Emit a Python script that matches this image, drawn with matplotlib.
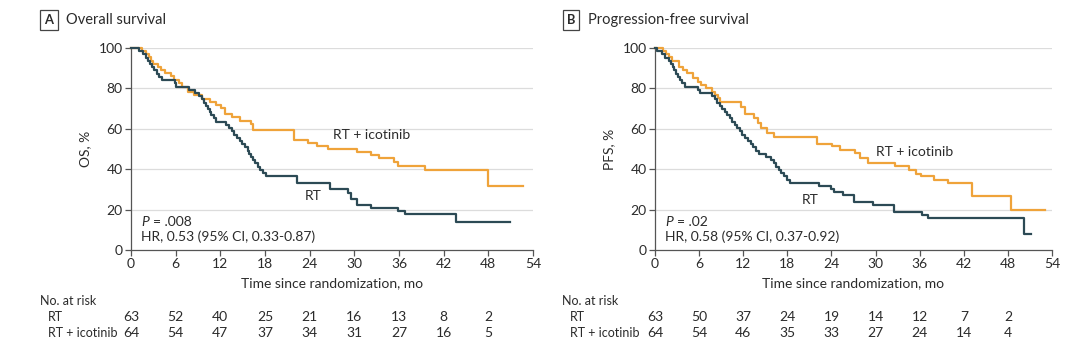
import matplotlib
matplotlib.use("Agg")
import matplotlib.pyplot as plt

# ---------------- data ----------------
os_rt_t = [0, 1.1, 1.6, 2.0, 2.3, 2.5, 2.8, 3.1, 3.5, 3.8, 4.2, 5.9, 6.1, 7.8, 8.6, 9.2, 9.5, 9.8,
           10.1, 10.3, 10.6, 10.8, 11.1, 11.4, 12.8, 13.2, 13.6, 13.9, 14.2, 14.6, 14.9, 15.3, 15.7,
           15.9, 16.1, 16.4, 16.7, 17.0, 17.3, 17.7, 18.2, 22.3, 26.7, 29.2, 29.6, 30.3, 32.2, 35.9,
           36.8, 43.7, 50.9]
os_rt_s = [100, 98.4, 96.8, 95.2, 93.7, 92.1, 90.5, 88.9, 87.3, 85.7, 84.1, 82.5, 80.9, 79.4, 77.8,
           76.2, 74.6, 73.0, 71.4, 69.8, 68.3, 66.7, 65.1, 63.5, 62.0, 60.3, 58.7, 57.1, 55.6, 54.0,
           52.4, 50.8, 49.2, 47.6, 46.0, 44.4, 42.9, 41.3, 39.7, 38.1, 36.5, 33.2, 30.0, 28.2, 25.4,
           22.2, 20.6, 19.2, 17.6, 13.8, 13.8]

os_ico_t = [0, 1.5, 2.0, 2.4, 2.7, 3.0, 3.6, 4.0, 4.6, 5.4, 5.8, 6.4, 6.9, 7.6, 8.5, 9.6, 10.6, 11.4,
            12.1, 12.6, 13.5, 14.6, 16.1, 16.4, 21.9, 23.8, 25.0, 26.4, 30.3, 32.2, 33.3, 35.3, 35.8,
            39.5, 48.0, 52.7]
os_ico_s = [100, 98.4, 96.9, 95.3, 93.8, 92.2, 90.6, 89.1, 87.5, 85.9, 84.4, 82.8, 80.9, 78.1, 76.6,
            75.0, 73.4, 71.9, 70.3, 67.2, 65.6, 64.1, 62.5, 59.4, 54.7, 53.1, 51.6, 50.0, 48.4, 46.9,
            45.3, 43.8, 41.5, 39.8, 31.7, 31.7]

pfs_rt_t = [0, 0.3, 0.9, 1.3, 1.9, 2.2, 2.4, 2.6, 2.9, 3.1, 3.4, 3.7, 4.1, 5.9, 6.1, 7.7, 8.1, 8.4,
            8.8, 9.1, 9.5, 9.8, 10.2, 10.5, 10.9, 11.2, 11.6, 11.9, 12.3, 12.6, 13.0, 13.3, 13.7, 14.2,
            15.1, 15.8, 16.2, 16.5, 16.9, 17.2, 17.5, 17.9, 18.4, 22.3, 23.9, 24.4, 25.6, 27.0, 29.7,
            32.5, 36.3, 37.2, 50.2, 51.2]
pfs_rt_s = [100, 98.4, 96.8, 95.2, 93.7, 92.1, 90.5, 88.9, 87.3, 85.7, 84.1, 82.5, 80.9, 79.4, 77.8,
            76.2, 74.6, 73.0, 71.4, 69.8, 68.3, 66.7, 65.1, 63.5, 61.9, 60.3, 58.7, 57.1, 55.6, 54.0,
            52.4, 50.8, 49.2, 47.6, 46.0, 44.4, 42.9, 41.3, 39.7, 38.1, 36.5, 34.9, 33.3, 31.7, 30.2,
            28.6, 27.0, 23.8, 22.2, 19.0, 17.5, 15.9, 7.9, 7.9]

pfs_ico_t = [0, 1.1, 1.5, 1.9, 2.3, 3.2, 3.8, 4.3, 5.2, 5.9, 6.3, 7.0, 7.7, 8.1, 8.6, 8.9, 11.7, 12.2,
             13.5, 14.0, 14.4, 15.3, 16.2, 22.0, 24.1, 25.2, 27.2, 27.9, 29.0, 32.6, 34.6, 35.5, 36.2,
             38.0, 39.8, 43.1, 48.4, 53.1]
pfs_ico_s = [100, 98.4, 96.9, 95.3, 93.8, 90.6, 88.9, 87.5, 85.0, 83.4, 81.8, 80.1, 78.4, 76.8, 75.1,
             73.5, 71.0, 67.3, 65.2, 62.7, 60.2, 58.0, 55.7, 52.7, 51.4, 49.6, 47.8, 45.3, 43.1, 41.5,
             39.5, 37.5, 36.5, 34.8, 33.2, 26.7, 19.9, 19.9]

risk_times = [0, 6, 12, 18, 24, 30, 36, 42, 48]
os_risk_rt = [63, 52, 40, 25, 21, 16, 13, 8, 2]
os_risk_ico = [64, 54, 47, 37, 34, 31, 27, 16, 5]
pfs_risk_rt = [63, 50, 37, 24, 19, 14, 12, 7, 2]
pfs_risk_ico = [64, 54, 46, 35, 33, 27, 24, 14, 4]

x_ticks = [0, 6, 12, 18, 24, 30, 36, 42, 48, 54]
y_ticks = [0, 20, 40, 60, 80, 100]

# ---------------- style ----------------
W, H = 1080, 355
FONT = "Lato"
plt.rcParams["font.family"] = [FONT, "DejaVu Sans"]
TXT = "#2b2b2b"
ORANGE = "#EFA33A"
DARK = "#2C4A55"
GRID = "#dcdcdc"
AXC = "#555555"
FS = 10.0
FR = 9.0

fig = plt.figure(figsize=(W / 100, H / 100), dpi=100)
fig.patch.set_facecolor("white")


def fx(px):
    return px / W


def fy(py):
    return 1 - py / H


def make_panel(left, right, letter, title, ylabel, rt_t, rt_s, ico_t, ico_s, risk_rt, risk_ico,
               pval, hr, ico_lab, rt_lab, box_x):
    top, bot = 48, 250
    ax = fig.add_axes([fx(left), fy(bot), fx(right - left), (bot - top) / H])
    ax.set_xlim(0, 54)
    ax.set_ylim(0, 100)
    for g in [20, 40, 60, 80, 100]:
        ax.axhline(g, color=GRID, lw=0.9, zorder=0)
    ax.step(ico_t, ico_s, where="post", color=ORANGE, lw=1.6, clip_on=False, zorder=3)
    ax.step(rt_t, rt_s, where="post", color=DARK, lw=1.6, clip_on=False, zorder=4)
    for s in ["top", "right"]:
        ax.spines[s].set_visible(False)
    for s in ["left", "bottom"]:
        ax.spines[s].set_color(AXC)
        ax.spines[s].set_linewidth(0.9)
    ax.set_xticks(x_ticks)
    ax.set_yticks(y_ticks)
    ax.tick_params(axis="both", direction="out", length=4, width=0.9, color=AXC,
                   labelsize=FS, labelcolor=TXT, pad=2)
    ax.set_xlabel("Time since randomization, mo", fontsize=FS, color=TXT, labelpad=5)
    ax.set_ylabel(ylabel, fontsize=FS, color=TXT, labelpad=5)
    ax.set_facecolor("none")

    # curve labels
    ax.text(ico_lab[0], ico_lab[1], "RT + icotinib", fontsize=FS, color=TXT, ha="left", va="center")
    ax.text(rt_lab[0], rt_lab[1], "RT", fontsize=FS, color=TXT, ha="center", va="center")

    # stats
    ax_x = left + 10
    fig.text(fx(ax_x), fy(222), "P", fontsize=FS, color=TXT, style="italic", ha="left", va="center")
    fig.text(fx(ax_x + 12), fy(222), "= " + pval, fontsize=FS, color=TXT, ha="left", va="center")
    fig.text(fx(ax_x), fy(237), hr, fontsize=FS, color=TXT, ha="left", va="center")

    # title
    fig.text(fx(box_x), fy(20), letter, fontsize=9.3, fontweight="bold", color=TXT,
             ha="center", va="center",
             bbox=dict(boxstyle="square,pad=0.33", fc="white", ec="#444444", lw=0.9))
    fig.text(fx(box_x + 17), fy(20), title, fontsize=10.5, color=TXT, ha="left", va="center")

    # number at risk
    fig.text(fx(box_x - 9), fy(301), "No. at risk", fontsize=FR, color=TXT, ha="left", va="center")
    fig.text(fx(box_x - 1), fy(317), "RT", fontsize=FR, color=TXT, ha="left", va="center")
    fig.text(fx(box_x - 1), fy(333), "RT + icotinib", fontsize=FR, color=TXT, ha="left", va="center")
    for t, a, b in zip(risk_times, risk_rt, risk_ico):
        px = left + (right - left) * t / 54
        fig.text(fx(px), fy(317), str(a), fontsize=FS, color=TXT, ha="center", va="center")
        fig.text(fx(px), fy(333), str(b), fontsize=FS, color=TXT, ha="center", va="center")
    return ax


make_panel(131, 533, "A", "Overall survival", "OS, %", os_rt_t, os_rt_s, os_ico_t, os_ico_s,
           os_risk_rt, os_risk_ico, ".008", "HR, 0.53 (95% CI, 0.33-0.87)",
           (27.2, 57), (24.5, 26.7), 49)
make_panel(655, 1052, "B", "Progression-free survival", "PFS, %", pfs_rt_t, pfs_rt_s, pfs_ico_t,
           pfs_ico_s, pfs_risk_rt, pfs_risk_ico, ".02", "HR, 0.58 (95% CI, 0.37-0.92)",
           (30.0, 48.4), (21.1, 25.0), 571)

fig.savefig("out.png", dpi=100, facecolor="white")
